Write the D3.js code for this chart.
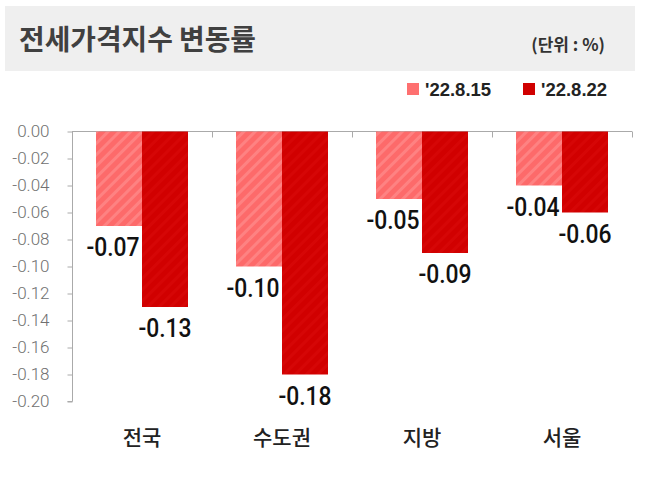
<!DOCTYPE html>
<html>
<head>
<meta charset="utf-8">
<script src="https://cdn.jsdelivr.net/npm/d3@7"></script>
<style>
  html, body { margin: 0; padding: 0; background: #fff; }
  svg { display: block; }
</style>
</head>
<body>
<svg id="chart" width="647" height="478"></svg>
<script>
const categories = ["전국", "수도권", "지방", "서울"];
const seriesNames = ["'22.8.15", "'22.8.22"];
const series1 = [-0.07, -0.10, -0.05, -0.04];
const series2 = [-0.13, -0.18, -0.09, -0.06];
const yTicks = [0, -0.02, -0.04, -0.06, -0.08, -0.10, -0.12, -0.14, -0.16, -0.18, -0.20];
const titleText = "전세가격지수 변동률";
const unitText = "(단위 : %)";

const svg = d3.select("#chart");
const defs = svg.append("defs");

// hatch patterns
function hatch(id, base, stripe, w) {
  const p = defs.append("pattern")
    .attr("id", id).attr("patternUnits", "userSpaceOnUse")
    .attr("width", 8).attr("height", 8)
    .attr("patternTransform", "rotate(45)");
  p.append("rect").attr("width", 8).attr("height", 8).attr("fill", base);
  p.append("rect").attr("x", 0).attr("width", w).attr("height", 8).attr("fill", stripe);
}
hatch("h1", "#fd6a6a", "#fe8282", 3);
hatch("h2", "#d10000", "#d60606", 3);

const colors = ["url(#h1)", "url(#h2)"];
const legendColors = ["#fe7070", "#d00000"];

// header
svg.append("rect").attr("x", 5).attr("y", 6).attr("width", 630).attr("height", 65).attr("fill", "#efefef");
svg.append("text").attr("x", 19).attr("y", 50)
  .attr("font-family", "'Noto Sans CJK KR'").attr("font-weight", 700)
  .attr("font-size", 28).attr("fill", "#404040")
  .attr("textLength", 237).attr("lengthAdjust", "spacingAndGlyphs")
  .text(titleText);
svg.append("text").attr("x", 605).attr("y", 51).attr("text-anchor", "end")
  .attr("font-family", "'Noto Sans CJK KR'").attr("font-weight", 700)
  .attr("font-size", 17).attr("fill", "#333")
  .text(unitText);

// legend
const legX = [407, 523];
seriesNames.forEach((n, i) => {
  svg.append("rect").attr("x", legX[i]).attr("y", 83).attr("width", 12).attr("height", 12).attr("fill", legendColors[i]);
  svg.append("text").attr("x", legX[i] + 18).attr("y", 96)
    .attr("font-family", "'Liberation Sans', Arial").attr("font-weight", 700)
    .attr("font-size", 18.5).attr("fill", "#222").text(n);
});

// scales
const x = d3.scaleBand().domain(categories).range([72, 632]).paddingInner(0).paddingOuter(0);
const xs = d3.scaleBand().domain([0, 1]).range([24, x.bandwidth() - 24]).padding(0);
const y = d3.scaleLinear().domain([-0.2, 0]).range([401.5, 131.5]);

// y axis
const yAxis = d3.axisLeft(y).tickValues(yTicks).tickSize(5).tickPadding(18)
  .tickFormat(d => d3.format(".2f")(d).replace("−", "-"));
const gy = svg.append("g").attr("transform", "translate(72.5,0)").call(yAxis);
gy.select(".domain").attr("stroke", "#aaa").attr("d", `M-5,${y(-0.2)}H0V${y(0)}`);
gy.selectAll(".tick line").attr("stroke", "#aaa");
gy.selectAll(".tick text").attr("font-family", "Roboto").attr("font-weight", 300)
  .attr("font-size", 17).attr("fill", "#707070").attr("x", -23);

// top x axis line with boundary ticks
const gx = svg.append("g").attr("transform", `translate(0,${y(0)})`);
gx.append("line").attr("x1", x.range()[0]).attr("x2", x.range()[1]).attr("y1", 0).attr("y2", 0).attr("stroke", "#aaa");
const bounds = categories.map(c => x(c) + x.bandwidth());
gx.selectAll("line.b").data(bounds).enter().append("line").attr("class", "b")
  .attr("x1", d => d + 0.5).attr("x2", d => d + 0.5).attr("y1", 0).attr("y2", 6).attr("stroke", "#aaa");

// bars
const data = [];
categories.forEach((c, i) => {
  data.push({ c, s: 0, v: series1[i] });
  data.push({ c, s: 1, v: series2[i] });
});
svg.append("g").selectAll("rect").data(data).enter().append("rect")
  .attr("x", d => x(d.c) + xs(d.s))
  .attr("width", xs.bandwidth())
  .attr("y", y(0))
  .attr("height", d => y(d.v) - y(0))
  .attr("fill", d => colors[d.s]);

// value labels
const labOff = [-6, 0];
svg.append("g").selectAll("g").data(data).enter().append("g")
  .attr("transform", d => `translate(${x(d.c) + xs(d.s) + xs.bandwidth() / 2 + labOff[d.s]},${y(d.v) + 30}) scale(0.88,1)`)
  .append("text").attr("text-anchor", "middle")
  .attr("font-family", "Roboto").attr("font-weight", 500)
  .attr("font-size", 26).attr("fill", "#111")
  .text(d => d3.format(".2f")(d.v).replace("−", "-"));

// category labels
svg.append("g").selectAll("text").data(categories).enter().append("text")
  .attr("x", d => x(d) + x.bandwidth() / 2)
  .attr("y", 445)
  .attr("text-anchor", "middle")
  .attr("font-family", "'Noto Sans CJK KR'").attr("font-weight", 500)
  .attr("font-size", 21).attr("fill", "#222")
  .text(d => d);
</script>
</body>
</html>
